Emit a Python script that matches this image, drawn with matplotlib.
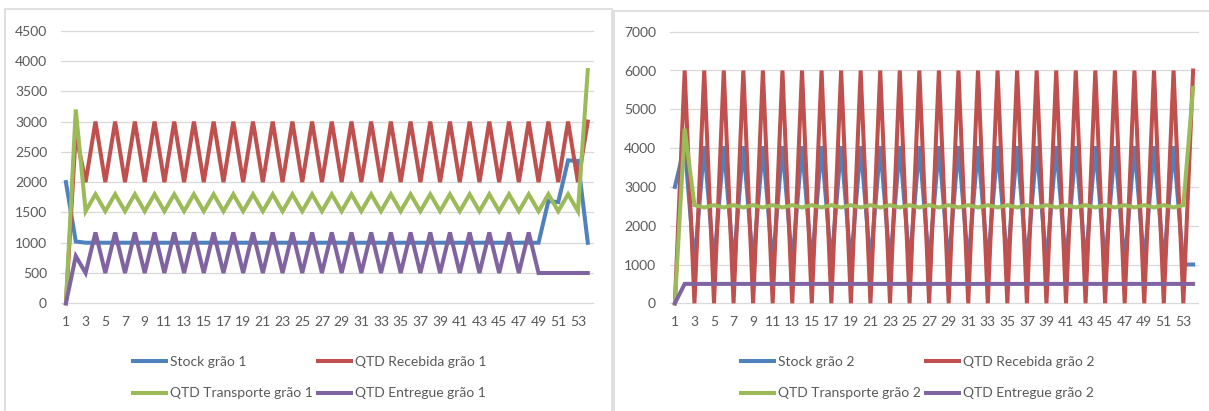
import numpy as np
import matplotlib.pyplot as plt
from matplotlib.patches import Rectangle

plt.rcParams['font.family'] = ['Lato', 'DejaVu Sans']

# weekly values, grain 1 (54 periods)
stock_1 = [
    2000, 1020, 1000, 1000, 1000, 1000, 1000, 1000, 1000, 1000,
    1000, 1000, 1000, 1000, 1000, 1000, 1000, 1000, 1000, 1000,
    1000, 1000, 1000, 1000, 1000, 1000, 1000, 1000, 1000, 1000,
    1000, 1000, 1000, 1000, 1000, 1000, 1000, 1000, 1000, 1000,
    1000, 1000, 1000, 1000, 1000, 1000, 1000, 1000, 1000, 1690,
    1670, 2360, 2350, 1000,
]
recebida_1 = [
    0, 2800, 2000, 3000, 2000, 3000, 2000, 3000, 2000, 3000,
    2000, 3000, 2000, 3000, 2000, 3000, 2000, 3000, 2000, 3000,
    2000, 3000, 2000, 3000, 2000, 3000, 2000, 3000, 2000, 3000,
    2000, 3000, 2000, 3000, 2000, 3000, 2000, 3000, 2000, 3000,
    2000, 3000, 2000, 3000, 2000, 3000, 2000, 3000, 2000, 3000,
    2000, 3000, 2000, 3000,
]
transporte_1 = [
    0, 3200, 1520, 1800, 1520, 1800, 1520, 1800, 1520, 1800,
    1520, 1800, 1520, 1800, 1520, 1800, 1520, 1800, 1520, 1800,
    1520, 1800, 1520, 1800, 1520, 1800, 1520, 1800, 1520, 1800,
    1520, 1800, 1520, 1800, 1520, 1800, 1520, 1800, 1520, 1800,
    1520, 1800, 1520, 1800, 1520, 1800, 1520, 1800, 1520, 1800,
    1520, 1800, 1520, 3850,
]
entregue_1 = [
    0, 780, 500, 1170, 500, 1170, 500, 1170, 500, 1170,
    500, 1170, 500, 1170, 500, 1170, 500, 1170, 500, 1170,
    500, 1170, 500, 1170, 500, 1170, 500, 1170, 500, 1170,
    500, 1170, 500, 1170, 500, 1170, 500, 1170, 500, 1170,
    500, 1170, 500, 1170, 500, 1170, 500, 1170, 500, 500,
    500, 500, 500, 500,
]

# weekly values, grain 2
stock_2 = [
    3000, 4050, 1000, 4050, 1000, 4050, 1000, 4050, 1000, 4050,
    1000, 4050, 1000, 4050, 1000, 4050, 1000, 4050, 1000, 4050,
    1000, 4050, 1000, 4050, 1000, 4050, 1000, 4050, 1000, 4050,
    1000, 4050, 1000, 4050, 1000, 4050, 1000, 4050, 1000, 4050,
    1000, 4050, 1000, 4050, 1000, 4050, 1000, 4050, 1000, 4050,
    1000, 4050, 1000, 1000,
]
recebida_2 = [
    0, 6000, 0, 6000, 0, 6000, 0, 6000, 0, 6000,
    0, 6000, 0, 6000, 0, 6000, 0, 6000, 0, 6000,
    0, 6000, 0, 6000, 0, 6000, 0, 6000, 0, 6000,
    0, 6000, 0, 6000, 0, 6000, 0, 6000, 0, 6000,
    0, 6000, 0, 6000, 0, 6000, 0, 6000, 0, 6000,
    0, 6000, 0, 6000,
]
transporte_2 = [
    0, 4500, 2530, 2470, 2530, 2470, 2530, 2470, 2530, 2470,
    2530, 2470, 2530, 2470, 2530, 2470, 2530, 2470, 2530, 2470,
    2530, 2470, 2530, 2470, 2530, 2470, 2530, 2470, 2530, 2470,
    2530, 2470, 2530, 2470, 2530, 2470, 2530, 2470, 2530, 2470,
    2530, 2470, 2530, 2470, 2530, 2470, 2530, 2470, 2530, 2470,
    2530, 2470, 2530, 5550,
]
entregue_2 = [
    0, 500, 500, 500, 500, 500, 500, 500, 500, 500,
    500, 500, 500, 500, 500, 500, 500, 500, 500, 500,
    500, 500, 500, 500, 500, 500, 500, 500, 500, 500,
    500, 500, 500, 500, 500, 500, 500, 500, 500, 500,
    500, 500, 500, 500, 500, 500, 500, 500, 500, 500,
    500, 500, 500, 500,
]

names_1 = ['Stock grão 1', 'QTD Recebida grão 1', 'QTD Transporte grão 1', 'QTD Entregue grão 1']
names_2 = ['Stock grão 2', 'QTD Recebida grão 2', 'QTD Transporte grão 2', 'QTD Entregue grão 2']
colors = ['#4f81bd', '#c0504d', '#9bbb59', '#8064a2']
text_col = '#595959'
grid_col = '#d9d9d9'

W, H = 1209, 411
fig = plt.figure(figsize=(W / 100, H / 100), dpi=100)

# chart frames
fig.patches.append(Rectangle((5 / W, -0.05), 607 / W, 1.05 - 9.5 / H, transform=fig.transFigure,
                             fill=False, ec=grid_col, lw=1.2))
fig.patches.append(Rectangle((614 / W, -0.05), 600 / W, 1.05 - 11 / H, transform=fig.transFigure,
                             fill=False, ec=grid_col, lw=1.2))


def panel(rect, series, names, ymax, step, leg_x):
    ax = fig.add_axes(rect)
    x = np.arange(1, len(series[0]) + 1)
    lines = []
    for vals, name, c in zip(series, names, colors):
        ln, = ax.plot(x, vals, color=c, lw=2.9, label=name, clip_on=False,
                      solid_joinstyle='miter')
        lines.append(ln)
    ax.set_xlim(0.5, len(x) + 0.5)
    ax.set_ylim(0, ymax)
    ax.set_yticks(np.arange(0, ymax + 1, step))
    ax.set_xticks(x[::2])
    ax.grid(axis='y', color=grid_col, lw=0.9)
    for g in ax.get_ygridlines():
        g.set_clip_on(False)
    ax.set_axisbelow(True)
    for s in ax.spines.values():
        s.set_visible(False)
    ax.tick_params(length=0, labelcolor=text_col, labelsize=10)
    ax.tick_params(axis='y', pad=10)
    ax.tick_params(axis='x', pad=9)
    order = [0, 2, 1, 3]
    fig.legend([lines[i] for i in order], [names[i] for i in order], ncol=2,
               loc='upper left', bbox_to_anchor=(leg_x / W, 1 - 356 / H),
               frameon=False, fontsize=10, labelcolor=text_col,
               handlelength=2.4, handletextpad=0.3, columnspacing=0.3,
               labelspacing=1.4, borderpad=0, borderaxespad=0)
    return ax


panel([61 / W, 1 - 303.3 / H, 531.7 / W, 272.6 / H],
      [stock_1, recebida_1, transporte_1, entregue_1], names_1, 4500, 500, 133)
panel([670 / W, 1 - 303.3 / H, 528 / W, 271.6 / H],
      [stock_2, recebida_2, transporte_2, entregue_2], names_2, 7000, 1000, 741)

fig.savefig('out.png', dpi=100)
